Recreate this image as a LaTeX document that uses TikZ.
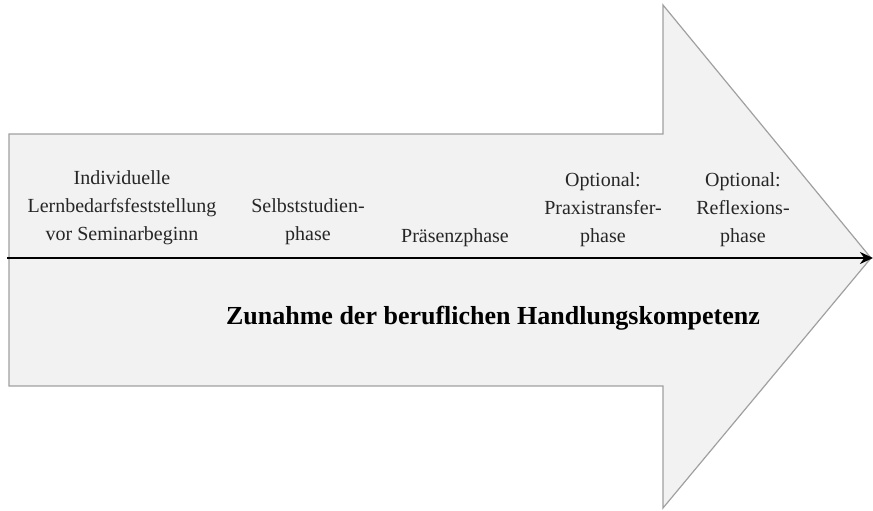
\documentclass[tikz,border=0pt]{standalone}
\usepackage{fontspec}
\setmainfont{Liberation Serif}
\usetikzlibrary{arrows.meta}
\definecolor{arrowfill}{RGB}{242,242,242}
\definecolor{arrowedge}{RGB}{160,160,160}
\tikzset{
  phase/.style={align=center, inner sep=0pt, text=black!85,
    font=\fontsize{20}{28}\selectfont},
  headline/.style={inner sep=0pt, font=\fontsize{26}{30}\selectfont\bfseries},
  bigarrow/.style={fill=arrowfill, draw=arrowedge, line width=1.2pt, line join=miter},
  timeline/.style={line width=2.4pt, -{Stealth[length=13pt,width=12pt]}}
}
\begin{document}
\begin{tikzpicture}[x=1pt,y=-1pt]
\useasboundingbox (0,0) rectangle (873,511);
% big arrow shape
\draw[bigarrow] (9,134) -- (663,134) -- (663,5) -- (871,258) -- (663,508) -- (663,386) -- (9,386) -- cycle;
% timeline
\coordinate (start) at (7,258);
\coordinate (tip) at (873,258);
\draw[timeline] (start) -- (tip);
% phases
\node[phase] (p1) at (122,208) {Individuelle\\Lernbedarfsfeststellung\\vor Seminarbeginn};
\node[phase] (p2) at (308,222) {Selbststudien-\\phase};
\node[phase] (p3) at (455,238) {Präsenzphase};
\node[phase] (p4) at (603,210) {Optional:\\Praxistransfer-\\phase};
\node[phase] (p5) at (743,210) {Optional:\\Reflexions-\\phase};
\node[headline] (title) at (493,318) {Zunahme der beruflichen Handlungskompetenz};
\end{tikzpicture}
\end{document}
